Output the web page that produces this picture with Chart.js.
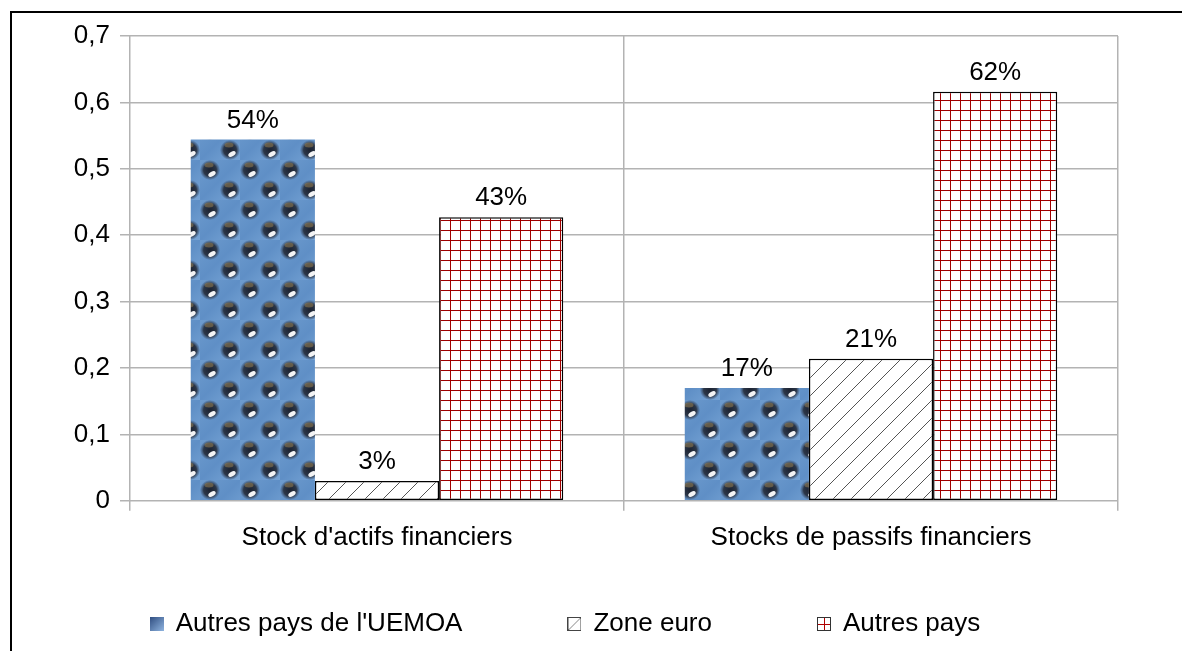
<!DOCTYPE html>
<html>
<head>
<meta charset="utf-8">
<script src="https://cdn.jsdelivr.net/npm/chart.js@4"></script>
<style>
  body { margin: 0; background: #fff; }
  #frame { position: absolute; left: 10px; top: 11px; width: 1172px; height: 640px;
           border-left: 2px solid #000; border-top: 2px solid #000; }
  #wrap { position: absolute; left: 0; top: 0; width: 1182px; height: 651px; }
</style>
</head>
<body>
<div id="frame"></div>
<div id="wrap"><canvas id="bar-chart"></canvas></div>
<script>
const categories = ["Stock d'actifs financiers", "Stocks de passifs financiers"];
const seriesNames = ["Autres pays de l'UEMOA", "Zone euro", "Autres pays"];
const uemoaValues = [0.544, 0.17];
const euroValues = [0.03, 0.214];
const autresValues = [0.427, 0.616];
const yTicks = [0, 0.1, 0.2, 0.3, 0.4, 0.5, 0.6, 0.7];

const FONT_FAMILY = "'Liberation Sans', Arial, sans-serif";
const font = { family: FONT_FAMILY, size: 26 };

// ---------------------------
// fill patterns
function makeCanvas(w, h) {
  const c = document.createElement("canvas");
  c.width = w;
  c.height = h;
  return c;
}

function dotsPattern() {
  const c = makeCanvas(40, 40);
  const g = c.getContext("2d");
  const bg = g.createLinearGradient(0, 0, 40, 40);
  bg.addColorStop(0, "#6d9bce");
  bg.addColorStop(0.5, "#5f8fc6");
  bg.addColorStop(1, "#78a5d6");
  g.fillStyle = bg;
  g.fillRect(0, 0, 40, 40);
  const centers = [[10, 10], [30, 30]];
  centers.forEach(([cx, cy]) => {
    [-40, 0, 40].forEach((ox) => {
      [-40, 0, 40].forEach((oy) => {
        const x = cx + ox, y = cy + oy;
        const grad = g.createRadialGradient(x, y, 1, x, y, 10);
        grad.addColorStop(0, "#1e2534");
        grad.addColorStop(0.6, "#2c3748");
        grad.addColorStop(1, "rgba(60,80,110,0.1)");
        g.fillStyle = grad;
        g.beginPath();
        g.arc(x, y, 10, 0, Math.PI * 2);
        g.fill();
        g.fillStyle = "rgba(150,125,80,0.55)";
        g.beginPath();
        g.ellipse(x - 1, y - 5, 4.5, 2.5, 0, 0, Math.PI * 2);
        g.fill();
        g.fillStyle = "rgba(255,255,255,0.95)";
        g.beginPath();
        g.ellipse(x + 2, y + 4, 4, 2.2, -0.5, 0, Math.PI * 2);
        g.fill();
      });
    });
  });
  return g.createPattern(c, "repeat");
}

function hatchPattern() {
  const c = makeCanvas(18, 18);
  const g = c.getContext("2d");
  g.fillStyle = "#fff";
  g.fillRect(0, 0, 18, 18);
  g.strokeStyle = "#555";
  g.lineWidth = 1;
  g.beginPath();
  g.moveTo(-1, 19);
  g.lineTo(19, -1);
  g.stroke();
  return g.createPattern(c, "repeat");
}

function gridPattern() {
  const c = makeCanvas(10, 10);
  const g = c.getContext("2d");
  g.fillStyle = "#fff";
  g.fillRect(0, 0, 10, 10);
  g.fillStyle = "#a00000";
  g.fillRect(0, 0, 10, 1);
  g.fillRect(0, 0, 1, 10);
  return g.createPattern(c, "repeat");
}

// legend icons
function iconUemoa() {
  const c = makeCanvas(14, 14);
  const g = c.getContext("2d");
  const grad = g.createLinearGradient(0, 0, 14, 14);
  grad.addColorStop(0, "#2f4d80");
  grad.addColorStop(1, "#8fb4e0");
  g.fillStyle = grad;
  g.fillRect(0, 0, 14, 14);
  return c;
}

function iconEuro() {
  const c = makeCanvas(14, 14);
  const g = c.getContext("2d");
  g.fillStyle = "#fff";
  g.fillRect(0, 0, 14, 14);
  g.strokeStyle = "#444";
  g.lineWidth = 1;
  g.strokeRect(0.5, 0.5, 13, 13);
  g.strokeStyle = "#888";
  g.beginPath();
  g.moveTo(1, 13);
  g.lineTo(13, 1);
  g.stroke();
  return c;
}

function iconAutres() {
  const c = makeCanvas(14, 14);
  const g = c.getContext("2d");
  g.fillStyle = "#fff";
  g.fillRect(0, 0, 14, 14);
  g.strokeStyle = "#333";
  g.lineWidth = 1;
  g.strokeRect(0.5, 0.5, 13, 13);
  g.fillStyle = "#b00000";
  g.fillRect(7, 1, 1, 12);
  g.fillRect(1, 7, 12, 1);
  return c;
}

const icons = [iconUemoa(), iconEuro(), iconAutres()];

// percentage labels above bars
const barLabels = {
  id: "barLabels",
  afterDatasetsDraw(chart) {
    const ctx = chart.ctx;
    ctx.save();
    ctx.font = "26px " + FONT_FAMILY;
    ctx.fillStyle = "#000";
    ctx.textAlign = "center";
    ctx.textBaseline = "alphabetic";
    chart.data.datasets.forEach((ds, i) => {
      chart.getDatasetMeta(i).data.forEach((bar, j) => {
        const pct = Math.round(ds.data[j] * 100) + "%";
        ctx.fillText(pct, bar.x, bar.y - 12);
      });
    });
    ctx.restore();
  },
};

// legend row under the axis, wide gaps between entries
const legendRow = {
  id: "legendRow",
  afterDraw(chart) {
    const ctx = chart.ctx;
    const gap = 105, box = 14, textGap = 12;
    const y = 624;
    ctx.save();
    ctx.font = "26px " + FONT_FAMILY;
    const widths = chart.data.datasets.map((ds) => box + textGap + ctx.measureText(ds.label).width);
    const total = widths.reduce((a, b) => a + b, 0) + gap * (widths.length - 1);
    let x = (chart.chartArea.left - 118 + chart.chartArea.right) / 2 - total / 2;
    ctx.fillStyle = "#000";
    ctx.textBaseline = "middle";
    ctx.textAlign = "left";
    chart.data.datasets.forEach((ds, i) => {
      ctx.drawImage(icons[i], x, y - 7);
      ctx.fillText(ds.label, x + box + textGap, y);
      x += widths[i] + gap;
    });
    ctx.restore();
  },
};

const BarCtx = document.getElementById("bar-chart");

new Chart(BarCtx, {
  type: "bar",
  data: {
    labels: categories,
    datasets: [
      {
        label: seriesNames[0],
        data: uemoaValues,
        backgroundColor: dotsPattern(),
        borderWidth: 0,
      },
      {
        label: seriesNames[1],
        data: euroValues,
        backgroundColor: hatchPattern(),
        borderColor: "#000",
        borderWidth: 1.5,
        borderSkipped: false,
      },
      {
        label: seriesNames[2],
        data: autresValues,
        backgroundColor: gridPattern(),
        borderColor: "#000",
        borderWidth: 1.5,
        borderSkipped: false,
      },
    ],
  },
  options: {
    responsive: true,
    maintainAspectRatio: false,
    animation: false,
    layout: { padding: { left: 12, right: 64, top: 36, bottom: 87 } },
    datasets: { bar: { categoryPercentage: 0.754, barPercentage: 1 } },
    plugins: {
      tooltip: { enabled: false },
      legend: { display: false },
    },
    scales: {
      x: {
        grid: { offset: true, color: "#b3b3b3", tickLength: 10, lineWidth: 1.5 },
        border: { display: false },
        ticks: { color: "#000", font: font, padding: 11 },
      },
      y: {
        min: 0,
        max: 0.7,
        afterFit(scale) {
          scale.width = 118;
        },
        afterBuildTicks(scale) {
          scale.ticks = yTicks.map((v) => ({ value: v }));
        },
        grid: { color: "#b3b3b3", tickLength: 10, lineWidth: 1.5 },
        border: { display: false },
        ticks: {
          color: "#000",
          font: font,
          padding: 10,
          callback: (v) => (v === 0 ? "0" : v.toFixed(1).replace(".", ",")),
        },
      },
    },
  },
  plugins: [barLabels, legendRow],
});
</script>
</body>
</html>
